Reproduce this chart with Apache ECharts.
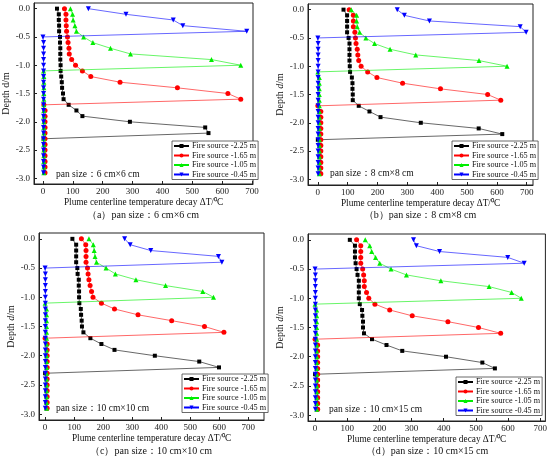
<!DOCTYPE html>
<html>
<head>
<meta charset="utf-8">
<script src="https://cdn.jsdelivr.net/npm/echarts@6/dist/echarts.min.js"></script>
<style>html,body{margin:0;padding:0;background:#fff}#chart{width:550px;height:461px}</style>
</head>
<body>
<div id="chart"></div>
<script>
// depth of each measuring point (m)
var depth = [0.0,-0.1,-0.2,-0.3,-0.4,-0.5,-0.6,-0.7,-0.8,-0.9,-1.0,-1.1,-1.2,-1.3,-1.4,
             -1.5,-1.6,-1.7,-1.8,-1.9,-2.0,-2.1,-2.2,-2.3,-2.4,-2.5,-2.6,-2.7,-2.8,-2.9];
var names = ['Fire source -2.25 m','Fire source -1.65 m','Fire source -1.05 m','Fire source -0.45 m'];
var xTicks = [0,100,200,300,400,500,600,700];
var yTicks = [0.0,-0.5,-1.0,-1.5,-2.0,-2.5,-3.0];

// (a) 6 cm x 6 cm
var a225 = [47,53,53,54,54,57,57,58,58,58,59,59,61,63,64,67,69,86,112,132,291,543,554,2,5,5,5,5,5,5];
var a165 = [72,77,77,78,79,82,84,87,88,96,109,132,160,258,450,619,662,3,7,7,7,7,7,7,7,7,7,7,7,7];
var a105 = [92,99,101,107,112,136,167,226,293,564,662,2,3,3,3,3,3,3,3,3,3,3,3,3,3,3,3,3,3,3];
var a045 = [152,278,436,468,682,0,2,2,2,2,2,2,2,2,2,2,2,2,2,2,2,2,2,2,2,2,2,2,2,2];
// (b) 8 cm x 8 cm
var b225 = [86,98,98,98,98,103,106,106,106,106,107,108,114,116,116,117,117,137,173,210,345,539,618,0,8,8,8,8,8,8];
var b165 = [105,119,119,119,124,126,128,132,134,137,145,167,198,284,411,569,613,0,10,10,10,10,10,10,10,10,10,10,10,10];
var b105 = [112,130,130,132,140,161,190,242,328,540,634,0,5,5,5,5,5,5,5,5,5,5,5,5,5,5,5,5,5,5];
var b045 = [266,290,374,678,698,0,1,1,1,1,1,1,1,1,1,1,1,1,1,1,1,1,1,1,1,1,1,1,1,1];
// (c) 10 cm x 10 cm
var c225 = [94,107,107,107,107,111,112,116,116,117,117,118,123,124,126,127,132,156,194,239,378,531,599,0,5,5,5,5,5,5];
var c165 = [125,140,141,141,141,146,148,151,155,160,165,194,239,320,436,549,616,0,7,7,7,7,7,7,7,7,7,7,7,7];
var c105 = [151,166,169,172,177,210,242,313,415,543,580,0,5,5,5,5,5,5,5,5,5,5,5,5,5,5,5,5,5,5];
var c045 = [274,293,364,597,609,0,1,1,1,1,1,1,1,1,1,1,1,1,1,1,1,1,1,1,1,1,1,1,1,1];
// (d) 10 cm x 15 cm
var d225 = [108,124,124,124,126,129,132,136,136,136,136,139,146,147,149,149,152,177,222,271,407,520,559,0,7,7,7,7,7,7];
var d165 = [129,142,142,142,142,148,151,153,153,160,167,186,232,302,413,508,577,0,8,8,8,8,8,8,8,8,8,8,8,8];
var d105 = [156,170,176,188,201,236,284,391,541,611,641,0,5,5,5,5,5,5,5,5,5,5,5,5,5,5,5,5,5,5];
var d045 = [306,315,387,599,650,0,1,1,1,1,1,1,1,1,1,1,1,1,1,1,1,1,1,1,1,1,1,1,1,1];

var panels = [
  {vals:[a225,a165,a105,a045], tag:'a', pan:'6 cm×6 cm', italic:false,
   grid:{left:34,top:3,width:219,height:181}, xmin:-30, xmax:703,
   legend:{left:172,top:141}, panPos:[56,169], cap:[143,210]},
  {vals:[b225,b165,b105,b045], tag:'b', pan:'8 cm×8 cm', italic:true,
   grid:{left:308,top:4,width:225,height:181}, xmin:-33, xmax:721,
   legend:{left:452,top:141}, panPos:[330,168], cap:[420,210]},
  {vals:[c225,c165,c105,c045], tag:'c', pan:'10 cm×10 cm', italic:true,
   grid:{left:39,top:233,width:225,height:187}, xmin:-21, xmax:754,
   legend:{left:182,top:374}, panPos:[56,403], cap:[151,446]},
  {vals:[d225,d165,d105,d045], tag:'d', pan:'10 cm×15 cm', italic:true,
   grid:{left:308,top:234,width:239,height:187}, xmin:-22, xmax:716,
   legend:{left:456,top:377}, panPos:[329,404], cap:[427,446]}
];

var colors = ['#000000','#ff0000','#00ee00','#0000ff'];
var symbols = ['rect','circle','triangle','triangle'];
var rotates = [0,0,0,180];
var serif = '"Liberation Serif","Times New Roman",serif';

var option = {
  animation:false,
  grid:[], xAxis:[], yAxis:[], series:[], legend:[], title:[]
};

panels.forEach(function(p, i){
  option.grid.push({left:p.grid.left, top:p.grid.top, width:p.grid.width, height:p.grid.height,
    show:true, borderColor:'#222', borderWidth:1, containLabel:false});
  option.xAxis.push({type:'value', gridIndex:i, min:p.xmin, max:p.xmax,
    name:'Plume centerline temperature decay ΔT/⁰C', nameLocation:'middle', nameGap:14,
    nameTextStyle:{fontFamily:serif, fontSize:9.3, color:'#111'},
    axisLine:{onZero:false, lineStyle:{color:'#222', width:1}},
    axisTick:{inside:true, length:3, customValues:xTicks, lineStyle:{color:'#222'}},
    axisLabel:{customValues:xTicks, margin:3, fontFamily:serif, fontSize:9, color:'#222'},
    splitLine:{show:false}});
  option.yAxis.push({type:'value', gridIndex:i, min:-3.1, max:0.1,
    name:'{n|Depth }{'+(p.italic?'i':'n')+'|d}{n|/m}', nameLocation:'middle', nameGap:21, nameRotate:90,
    nameTextStyle:{rich:{n:{fontFamily:serif, fontSize:10, color:'#111'},
                         i:{fontFamily:serif, fontSize:10, fontStyle:'italic', color:'#111'}}},
    axisLine:{onZero:false, lineStyle:{color:'#222', width:1}},
    axisTick:{inside:true, length:3, customValues:yTicks, lineStyle:{color:'#222'}},
    axisLabel:{customValues:yTicks, margin:4, fontFamily:serif, fontSize:9, color:'#222',
      formatter:function(v){ return v.toFixed(1); }},
    splitLine:{show:false}});
  p.vals.forEach(function(v, k){
    option.series.push({type:'line', name:names[k], xAxisIndex:i, yAxisIndex:i,
      data:depth.map(function(d, j){ return [v[j], d]; }),
      symbol:symbols[k], symbolRotate:rotates[k], symbolSize:k === 0 ? 4 : 5,
      color:colors[k], lineStyle:{width:0.6, color:colors[k]},
      itemStyle:{color:colors[k]}, clip:false, z:2+k});
  });
  option.legend.push({orient:'vertical', left:p.legend.left, top:p.legend.top,
    data:names, itemWidth:15, itemHeight:5, itemGap:1.5, padding:[1,2,1,1],
    borderColor:'#444', borderWidth:0.8, backgroundColor:'#fff', selectedMode:false,
    textStyle:{fontFamily:serif, fontSize:8.2, lineHeight:8, color:'#111', padding:[0,0,0,-2]}});
  option.title.push({text:'pan size：' + p.pan, left:p.panPos[0], top:p.panPos[1], padding:0,
    textStyle:{fontFamily:serif, fontSize:9.5, fontWeight:'normal', color:'#111'}});
  option.title.push({text:'（' + p.tag + '）pan size：' + p.pan, left:p.cap[0], top:p.cap[1],
    textAlign:'center', padding:0,
    textStyle:{fontFamily:serif, fontSize:10, fontWeight:'normal', color:'#111'}});
});

var myChart = echarts.init(document.getElementById('chart'));
myChart.setOption(option);
</script>
</body>
</html>
